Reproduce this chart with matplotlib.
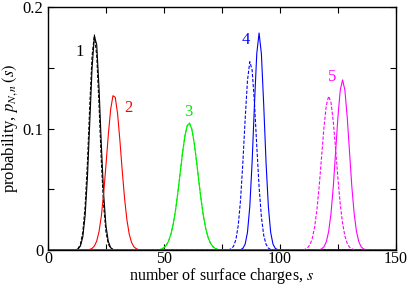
import numpy as np
import matplotlib
matplotlib.use("Agg")
import matplotlib.pyplot as plt
from matplotlib.ticker import MultipleLocator

plt.rcParams['font.family'] = ['Liberation Serif', 'DejaVu Serif']
plt.rcParams['mathtext.fontset'] = 'stix'

# probability values, one list per curve, with the first s of each
s1_start = 12
p1_solid = [0.0002, 0.0009, 0.0034, 0.0108, 0.0283, 0.0601, 0.105, 0.150, 0.176,
            0.169, 0.133, 0.086, 0.0455, 0.0197, 0.0070, 0.0020, 0.0005, 0.0001]
p1_dash = [0.0003, 0.0013, 0.0049, 0.0147, 0.036, 0.0723, 0.119, 0.160, 0.177,
           0.160, 0.119, 0.0723, 0.036, 0.0147, 0.0049, 0.0013, 0.0003]

s2_start = 18
p2 = [0.0005, 0.0013, 0.0033, 0.0074, 0.0152, 0.028, 0.0468, 0.0702, 0.0949, 0.1156,
      0.127, 0.1256, 0.112, 0.090, 0.0652, 0.0426, 0.0250, 0.0132, 0.0063, 0.0027,
      0.0011, 0.0004]

s3_start = 49
p3 = [0.0009, 0.0019, 0.0039, 0.0074, 0.0131, 0.0215, 0.0330, 0.0475, 0.0637, 0.080,
      0.0935, 0.1022, 0.1044, 0.0995, 0.0885, 0.0736, 0.0571, 0.0414, 0.028, 0.0177,
      0.0105, 0.0058, 0.0030, 0.0014, 0.0006]

s4_solid_start = 82
p4_solid = [0.0001, 0.0003, 0.0013, 0.0048, 0.0145, 0.0358, 0.0723, 0.1195, 0.1615,
            0.1786, 0.1615, 0.1195, 0.0723, 0.0358, 0.0145, 0.0048, 0.0013, 0.0003,
            0.0001]
s4_dash_start = 77
p4_dash = [0.0001, 0.0003, 0.0010, 0.0031, 0.0085, 0.0200, 0.0409, 0.0716, 0.1077,
           0.1395, 0.1550, 0.1482, 0.1216, 0.0858, 0.0521, 0.0272, 0.0121, 0.0047,
           0.0016, 0.0004, 0.0001]

s5_dash_start = 111
p5_dash = [0.0007, 0.0020, 0.0046, 0.0100, 0.0194, 0.0342, 0.0543, 0.0781, 0.1015,
           0.1192, 0.1266, 0.1216, 0.1056, 0.0830, 0.0589, 0.0378, 0.0220, 0.0115,
           0.0055, 0.0023, 0.0009, 0.0003]
s5_solid_start = 117
p5_solid = [0.0003, 0.0009, 0.0027, 0.0068, 0.0152, 0.0299, 0.0521, 0.0803, 0.1094,
            0.1316, 0.140, 0.1316, 0.1094, 0.0803, 0.0521, 0.0299, 0.0152, 0.0068,
            0.0027, 0.0009, 0.0003]

labels = ["1", "2", "3", "4", "5"]
label_s = [13.8, 34.5, 60.3, 85.2, 122.4]
label_p = [0.163, 0.117, 0.1136, 0.173, 0.142]
colors = ["black", "#ff0000", "#00ee00", "#0000ff", "#ff00ff"]

s_max = 150


def full(start, vals):
    # pad with zeros over the whole range 0..150
    p = np.zeros(s_max + 1)
    p[start:start + len(vals)] = vals
    return np.arange(s_max + 1), p


fig = plt.figure(figsize=(4.09, 2.85), dpi=100)
ax = fig.add_axes([0.1174, 0.1228, 0.8506, 0.8526])

curves = [
    (s1_start, p1_solid, colors[0], "-"),
    (s1_start, p1_dash, colors[0], "--"),
    (s2_start, p2, colors[1], "-"),
    (s3_start, p3, colors[2], "-"),
    (s3_start, p3, colors[2], "--"),
    (s4_solid_start, p4_solid, colors[3], "-"),
    (s4_dash_start, p4_dash, colors[3], "--"),
    (s5_solid_start, p5_solid, colors[4], "-"),
    (s5_dash_start, p5_dash, colors[4], "--"),
]
for start, vals, c, ls in curves:
    x, y = full(start, vals)
    ax.plot(x, y, color=c, ls=ls, lw=0.8, dashes=(3, 1.5) if ls == "--" else (None, None))

for t, xs, yp, c in zip(labels, label_s, label_p, colors):
    ax.text(xs, yp, t, color=c, fontsize=12, ha="center", va="center")

ax.set_xlim(0, 150)
ax.set_ylim(0, 0.2)
ax.xaxis.set_major_locator(MultipleLocator(50))
ax.xaxis.set_minor_locator(MultipleLocator(25))
ax.yaxis.set_major_locator(MultipleLocator(0.1))
ax.yaxis.set_minor_locator(MultipleLocator(0.05))
ax.set_yticks([0, 0.1, 0.2])
ax.set_yticklabels(["0", "0.1", "0.2"])
ax.tick_params(which="both", direction="in", top=True, right=True, length=4, width=0.8,
               labelsize=12)
ax.tick_params(axis="x", pad=1, labelsize=11.5)
for sp in ax.spines.values():
    sp.set_linewidth(1.0)

ax.set_xlabel("number of surface charges, $s$", fontsize=11.5, labelpad=-1)
ax.set_ylabel("probability, $p_{N,n}\\,(s)$", fontsize=12, labelpad=2)

fig.savefig("out.png", dpi=100)
